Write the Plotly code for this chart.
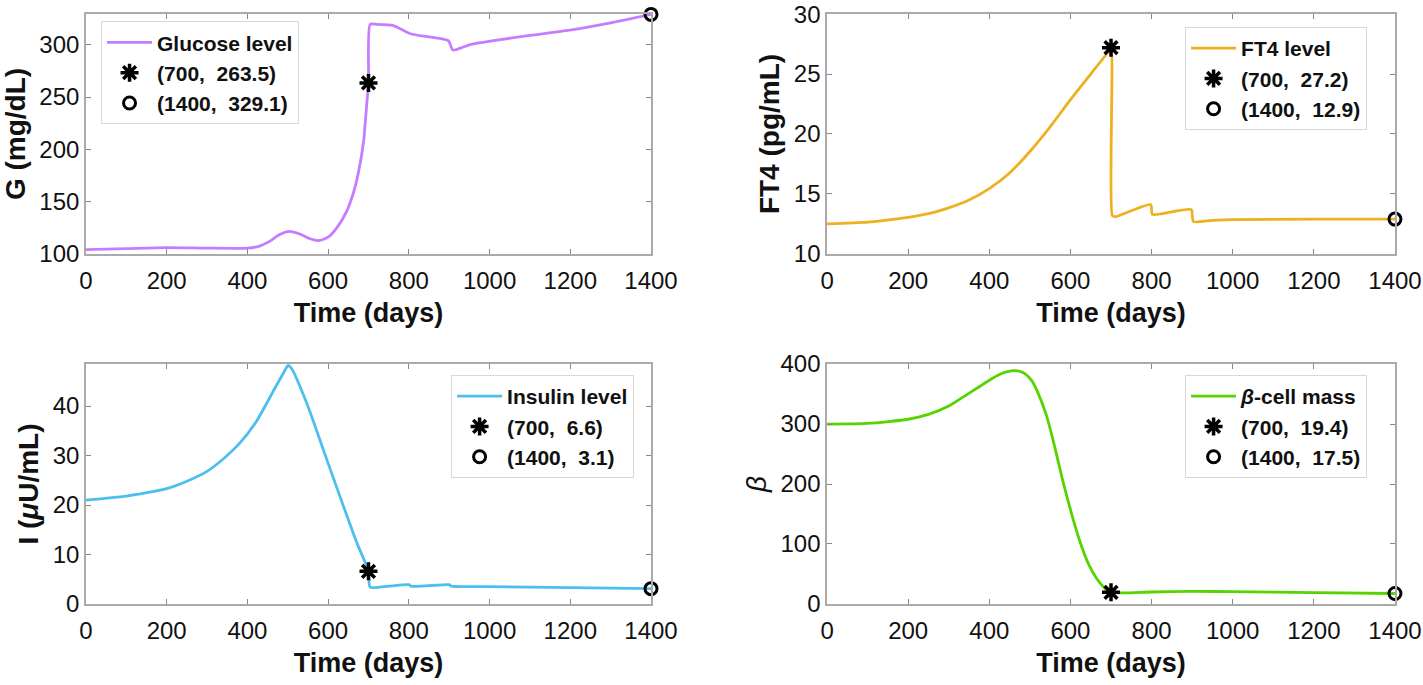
import plotly.graph_objects as go

# Glucose (mg/dL)
glu_t = [0, 100, 200, 300, 400, 430, 455, 480, 505, 530, 555, 577, 600, 621, 645, 666, 680, 688, 695, 700,
         704, 720, 760, 804, 850, 898, 909, 950, 1010, 1100, 1198, 1300, 1400]
glu_v = [104, 105, 106, 105.5, 105.5, 107.5, 112, 118.5, 121.5, 119, 114.5, 112.8, 116, 124.7, 140, 163, 188, 208, 240, 263.5,
         319.5, 319.6, 318.5, 310.6, 307.5, 304, 295, 300, 304, 309, 314, 321, 329.1]

# FT4 (pg/mL)
ft4_t = [0, 100, 200, 250, 296, 350, 398, 450, 499, 550, 601, 650, 692, 700,
         703, 710, 750, 798, 802, 850, 898, 903, 950, 1000, 1200, 1400]
ft4_v = [12.5, 12.65, 13.05, 13.35, 13.8, 14.5, 15.4, 16.75, 18.5, 20.6, 22.9, 25.0, 26.8, 27.2,
         13.2, 13.1, 13.6, 14.1, 13.3, 13.5, 13.7, 12.7, 12.8, 12.85, 12.9, 12.9]

# Insulin (uU/mL)
ins_t = [0, 100, 200, 250, 300, 340, 382, 423, 464, 490, 501, 510, 547, 588, 629, 671, 700,
         704, 750, 800, 805, 850, 900, 905, 1000, 1200, 1400]
ins_v = [21, 21.8, 23.3, 24.8, 26.8, 29.3, 32.6, 37.0, 43.0, 46.8, 48.2, 47.5, 40.6, 31.2, 21.8, 12.4, 6.6,
         3.4, 3.6, 3.9, 3.6, 3.7, 3.9, 3.6, 3.5, 3.3, 3.1]

# beta-cell mass
bet_t = [0, 100, 200, 250, 300, 340, 377, 400, 420, 440, 459, 475, 490, 505, 520, 541, 562, 582, 603, 624,
         645, 665, 685, 700, 800, 900, 1000, 1200, 1400]
bet_v = [300, 301, 308, 316, 330, 347, 363, 373, 381, 386.5, 389, 388, 383, 372, 352, 314, 260, 203, 150, 103,
         66, 42, 26, 19.4, 20, 21, 20.5, 19, 17.5]

panels = [
    # (t, v, color, name, ytitle, yrange, ytick step, star, circle)
    (glu_t, glu_v, '#C67CFF', 'Glucose level', 'G (mg/dL)', [99.9, 329.5], 50, (700, 263.5), (1400, 329.1)),
    (ft4_t, ft4_v, '#EDB120', 'FT4 level', 'FT4 (pg/mL)', [9.99, 30.01], 5, (700, 27.2), (1400, 12.9)),
    (ins_t, ins_v, '#4DBEEE', 'Insulin level', 'I (<i>μ</i>U/mL)', [-0.01, 48.5], 10, (700, 6.6), (1400, 3.1)),
    (bet_t, bet_v, '#55D400', '<i>β</i>-cell mass', '<span style="font-weight:normal"><i>β</i></span>',
     [-0.1, 400.1], 100, (700, 19.4), (1400, 17.5)),
]

xdom = [[0.0604, 0.4575], [0.5812, 0.9803]]
ydom = [[0.6292, 0.9796], [0.1182, 0.4686]]
leg_pos = [(0.071, 0.969), (0.8328, 0.9606), (0.317, 0.4526), (0.8328, 0.4526)]

FONT = 'Liberation Sans, Arial, sans-serif'

fig = go.Figure()
layout = dict(width=1423, height=685, margin=dict(l=0, r=0, t=0, b=0),
              plot_bgcolor='white', paper_bgcolor='white',
              font=dict(family=FONT, size=22, color='#1a1a1a'))

for i, (t, v, col, name, ytitle, yr, dt, star, circ) in enumerate(panels):
    n = i + 1
    xa = 'x' if n == 1 else f'x{n}'
    ya = 'y' if n == 1 else f'y{n}'
    lg = 'legend' if n == 1 else f'legend{n}'
    fig.add_trace(go.Scatter(x=t, y=v, mode='lines', line=dict(color=col, width=2.8, shape='spline', smoothing=0.6),
                             name=f'<b>{name}</b>', xaxis=xa, yaxis=ya, legend=lg))
    fig.add_trace(go.Scatter(x=[star[0]], y=[star[1]], mode='markers',
                             marker=dict(symbol='asterisk-open', size=15, color='black',
                                         line=dict(color='black', width=3.5)),
                             name=f'<b>({star[0]},  {star[1]})</b>', xaxis=xa, yaxis=ya, legend=lg,
                             cliponaxis=False))
    fig.add_trace(go.Scatter(x=[circ[0]], y=[circ[1]], mode='markers',
                             marker=dict(symbol='circle-open', size=12, color='black',
                                         line=dict(color='black', width=3)),
                             name=f'<b>({circ[0]},  {circ[1]})</b>', xaxis=xa, yaxis=ya, legend=lg,
                             cliponaxis=False))

    r, c = divmod(i, 2)
    axkey = 'xaxis' if n == 1 else f'xaxis{n}'
    aykey = 'yaxis' if n == 1 else f'yaxis{n}'
    layout[axkey] = dict(domain=xdom[c], anchor=ya, range=[0, 1400], tickvals=list(range(0, 1401, 200)),
                         showgrid=False, zeroline=False, showline=True, mirror='ticks', linecolor='#aaaaaa',
                         linewidth=1.5, ticks='inside', ticklen=5, tickcolor='#888888',
                         tickfont=dict(size=24, family=FONT, color='#111111'),
                         title=dict(text='<b>Time (days)</b>', font=dict(size=27, family=FONT, color='#111111'),
                                    standoff=11),
                         automargin=False, ticklabelstandoff=4)
    yt = list(range(int(round(yr[0])), int(round(yr[1])) + 1, dt))
    layout[aykey] = dict(domain=ydom[r], anchor=xa, range=yr, tickvals=yt,
                         showgrid=False, zeroline=False, showline=True, mirror='ticks', linecolor='#aaaaaa',
                         linewidth=1.5, ticks='inside', ticklen=5, tickcolor='#888888',
                         tickfont=dict(size=24, family=FONT, color='#111111'),
                         title=dict(text=f'<b>{ytitle}</b>', font=dict(size=28, family=FONT, color='#111111'),
                                    standoff=6),
                         automargin=False)
    lx, ly = leg_pos[i]
    layout[lg] = dict(x=lx, y=ly, xanchor='left', yanchor='top', bgcolor='white',
                      bordercolor='#d8d8d8', borderwidth=1,
                      font=dict(size=21, family=FONT, color='#111111'),
                      tracegroupgap=0, itemwidth=45)

fig.update_layout(**layout)
# drop the default page margin so the figure fills the window exactly
fig.write_html("out.html", config={'displayModeBar': False},
               post_script="document.body.style.margin='0';document.body.style.overflow='hidden';")
